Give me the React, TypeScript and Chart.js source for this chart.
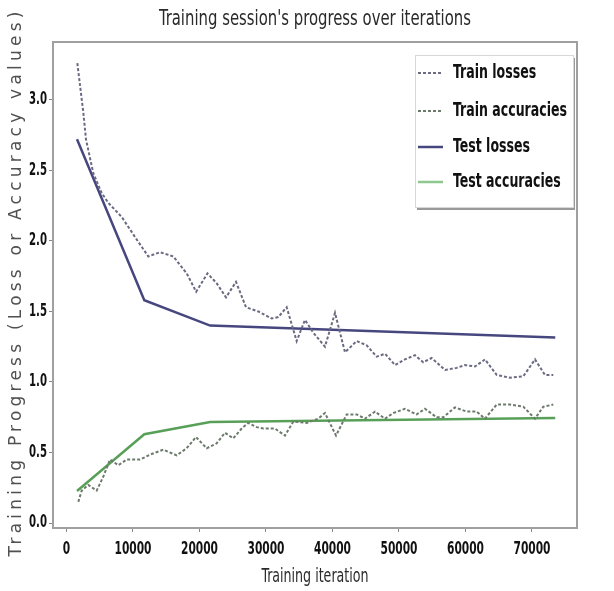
import { useEffect, useRef } from 'react';
import { Chart, registerables } from 'chart.js';

Chart.register(...registerables);

const TITLE = "Training session's progress over iterations";
const X_TITLE = 'Training iteration';
const Y_TITLE = 'Training Progress (Loss or Accuracy values)';
const SERIES_NAMES = ['Train losses', 'Train accuracies', 'Test losses', 'Test accuracies'];

const trainLossIter = [1630, 2530, 2930, 4030, 5290, 6290, 8300, 10560, 12300, 14060, 16060, 18070, 19500, 21200, 22580, 23990, 25490, 26990, 28840, 30850, 31850, 33110, 34610, 35860, 37110, 38870, 40380, 41880, 43640, 45140, 46650, 47900, 49400, 50900, 52410, 53650, 54920, 56920, 58680, 59930, 61430, 62930, 64690, 66690, 68690, 70450, 71950, 73200];
const trainLoss = [3.26, 2.91, 2.72, 2.48, 2.34, 2.27, 2.17, 2.01, 1.89, 1.92, 1.89, 1.77, 1.64, 1.77, 1.70, 1.60, 1.71, 1.53, 1.50, 1.45, 1.46, 1.53, 1.29, 1.44, 1.35, 1.25, 1.49, 1.21, 1.29, 1.26, 1.18, 1.20, 1.12, 1.16, 1.19, 1.14, 1.17, 1.085, 1.10, 1.12, 1.11, 1.16, 1.05, 1.03, 1.04, 1.16, 1.05, 1.05];

const trainAccIter = [1780, 2280, 3280, 4540, 5540, 6540, 7790, 9050, 11050, 12810, 14560, 16570, 18070, 19470, 21080, 22580, 23830, 25080, 26340, 27340, 28600, 29600, 31350, 32860, 34110, 36120, 37870, 38870, 40530, 42130, 43640, 44890, 46390, 47900, 49140, 50900, 52660, 53910, 55670, 56670, 58420, 60180, 61680, 62930, 64690, 66690, 68690, 70450, 71700, 73200];
const trainAcc = [0.15, 0.23, 0.27, 0.23, 0.33, 0.45, 0.41, 0.45, 0.45, 0.49, 0.52, 0.48, 0.53, 0.61, 0.53, 0.565, 0.64, 0.60, 0.67, 0.71, 0.68, 0.67, 0.67, 0.62, 0.72, 0.71, 0.74, 0.78, 0.62, 0.77, 0.77, 0.74, 0.79, 0.74, 0.78, 0.81, 0.77, 0.81, 0.75, 0.75, 0.82, 0.79, 0.79, 0.74, 0.84, 0.84, 0.825, 0.74, 0.825, 0.84];

const testIter = [1580, 11700, 21600, 73500];
const testLoss = [2.72, 1.58, 1.40, 1.315];
const testAcc = [0.227, 0.63, 0.716, 0.745];

const Y_TICKS = [0, 0.5, 1.0, 1.5, 2.0, 2.5, 3.0];
const X_TICKS = [0, 10000, 20000, 30000, 40000, 50000, 60000, 70000];

const COLORS = {
  trainLoss: '#6a6a82',
  trainAcc: '#6c7a6c',
  testLoss: '#47477f',
  testAcc: '#58a058',
  testAccLegend: '#8fc88f',
};

const COND = "'DejaVu Sans Condensed', 'DejaVu Sans', sans-serif";

const zip = (xs: number[], ys: number[]) => xs.map((x, i) => ({ x, y: ys[i] }));

function squeezedText(ctx: CanvasRenderingContext2D, text: string, x: number, y: number, sx: number, align: CanvasTextAlign) {
  ctx.save();
  ctx.translate(x, y);
  ctx.scale(sx, 1);
  ctx.textAlign = align;
  ctx.fillText(text, 0, 0);
  ctx.restore();
}

const decor = {
  id: 'decor',
  afterDraw(chart: any) {
    const { ctx, chartArea: a } = chart;
    const xs = chart.scales.x;
    const ys = chart.scales.y;
    ctx.save();
    // frame
    ctx.strokeStyle = '#a0a0a0';
    ctx.lineWidth = 2;
    ctx.strokeRect(a.left, a.top, a.right - a.left, a.bottom - a.top);

    ctx.textBaseline = 'middle';
    const cx = (a.left + a.right) / 2;

    // title
    ctx.fillStyle = '#2a2a2a';
    ctx.font = `22px ${COND}`;
    squeezedText(ctx, TITLE, cx, 19, 312 / ctx.measureText(TITLE).width, 'center');

    // x title
    ctx.font = `20px ${COND}`;
    squeezedText(ctx, X_TITLE, cx, 577, 107 / ctx.measureText(X_TITLE).width, 'center');

    // tick labels
    ctx.fillStyle = '#111';
    ctx.font = `bold 18px ${COND}`;
    const tickSx = 37 / ctx.measureText('10000').width;
    X_TICKS.forEach((v) => {
      squeezedText(ctx, String(v), xs.getPixelForValue(v), 549, tickSx, 'center');
    });
    ctx.font = `bold 17px ${COND}`;
    const ySx = 18 / ctx.measureText('3.0').width;
    Y_TICKS.forEach((v) => {
      squeezedText(ctx, v.toFixed(1), 47, ys.getPixelForValue(v), ySx, 'right');
    });

    // y title
    ctx.save();
    ctx.translate(17, 282);
    ctx.rotate(-Math.PI / 2);
    ctx.font = "17px 'DejaVu Sans', sans-serif";
    ctx.textAlign = 'center';
    const w = ctx.measureText(Y_TITLE).width;
    const sp = Math.max(0, (545 - w) / (Y_TITLE.length - 1));
    (ctx as any).letterSpacing = `${sp}px`;
    ctx.fillStyle = '#505050';
    ctx.fillText(Y_TITLE, 0, 0);
    ctx.restore();

    // legend
    const bx = 415, by = 55, bw = 158, bh = 152;
    ctx.fillStyle = 'rgba(110,110,110,0.7)';
    ctx.fillRect(bx + 2, by + 3, bw, bh);
    ctx.fillStyle = '#fff';
    ctx.fillRect(bx, by, bw, bh);
    ctx.strokeStyle = '#d8d8d8';
    ctx.lineWidth = 1;
    ctx.strokeRect(bx + 0.5, by + 0.5, bw, bh);
    const rows = [73, 111, 147, 182];
    const styles = [
      { c: COLORS.trainLoss, d: [3, 2], lw: 2 },
      { c: COLORS.trainAcc, d: [3, 2], lw: 2 },
      { c: COLORS.testLoss, d: [], lw: 2.5 },
      { c: COLORS.testAccLegend, d: [], lw: 2.5 },
    ];
    ctx.font = `bold 20px ${COND}`;
    const legSx = 114 / ctx.measureText(SERIES_NAMES[1]).width;
    rows.forEach((ry, i) => {
      const s = styles[i];
      ctx.beginPath();
      ctx.setLineDash(s.d);
      ctx.strokeStyle = s.c;
      ctx.lineWidth = s.lw;
      ctx.moveTo(418, ry);
      ctx.lineTo(443, ry);
      ctx.stroke();
      ctx.setLineDash([]);
      ctx.fillStyle = '#111';
      squeezedText(ctx, SERIES_NAMES[i], 453, ry, legSx, 'left');
    });
    ctx.restore();
  },
};

export default function App() {
  const ref = useRef<HTMLCanvasElement | null>(null);
  useEffect(() => {
    document.body.style.margin = '0';
    const canvas = ref.current;
    if (!canvas) return;
    const chart = new Chart(canvas, {
      type: 'line',
      data: {
        datasets: [
          {
            label: SERIES_NAMES[0],
            data: zip(trainLossIter, trainLoss),
            borderColor: COLORS.trainLoss,
            borderWidth: 2,
            borderDash: [3, 2],
            pointRadius: 0,
            tension: 0,
          },
          {
            label: SERIES_NAMES[1],
            data: zip(trainAccIter, trainAcc),
            borderColor: COLORS.trainAcc,
            borderWidth: 2,
            borderDash: [3, 2],
            pointRadius: 0,
            tension: 0,
          },
          {
            label: SERIES_NAMES[2],
            data: zip(testIter, testLoss),
            borderColor: COLORS.testLoss,
            borderWidth: 2.5,
            pointRadius: 0,
            tension: 0,
          },
          {
            label: SERIES_NAMES[3],
            data: zip(testIter, testAcc),
            borderColor: COLORS.testAcc,
            borderWidth: 2.5,
            pointRadius: 0,
            tension: 0,
          },
        ],
      },
      options: {
        animation: false,
        responsive: false,
        devicePixelRatio: 1,
        layout: { padding: { top: 42, right: 37, left: 0, bottom: 0 } },
        plugins: {
          legend: { display: false },
          title: { display: false },
          tooltip: { enabled: false },
        },
        scales: {
          x: {
            type: 'linear',
            min: -2030,
            max: 76770,
            afterFit: (s: any) => { s.height = 63; },
            afterBuildTicks: (s: any) => { s.ticks = X_TICKS.map((v) => ({ value: v })); },
            grid: { drawOnChartArea: false, drawTicks: true, tickLength: 4, color: '#888' },
            border: { display: false },
            ticks: { display: false },
          },
          y: {
            type: 'linear',
            min: -0.035,
            max: 3.41,
            afterFit: (s: any) => { s.width = 53; },
            afterBuildTicks: (s: any) => { s.ticks = Y_TICKS.map((v) => ({ value: v })); },
            grid: { drawOnChartArea: false, drawTicks: true, tickLength: 4, color: '#888' },
            border: { display: false },
            ticks: { display: false },
          },
        },
      },
      plugins: [decor],
    } as any);
    return () => chart.destroy();
  }, []);
  return (
    <div style={{ width: 614, height: 591, background: '#fff' }}>
      <canvas ref={ref} width={614} height={591} style={{ display: 'block' }} />
    </div>
  );
}
